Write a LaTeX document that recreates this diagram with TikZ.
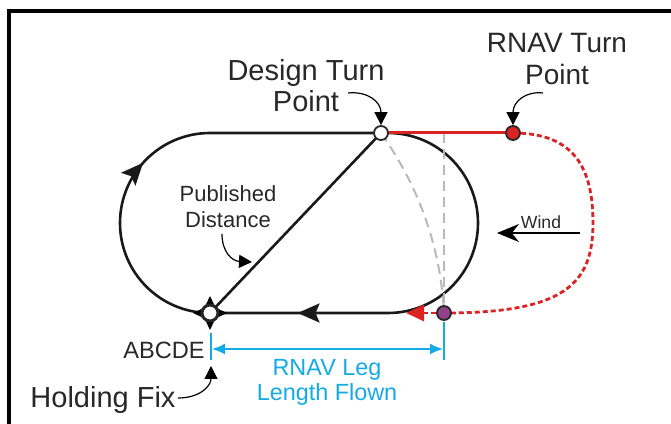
\documentclass[tikz,border=0pt]{standalone}
\usepackage{fontspec}
\setmainfont{Liberation Sans}
\usetikzlibrary{arrows.meta, shapes.geometric, decorations.markings}

\definecolor{legblue}{RGB}{20,170,230}
\definecolor{rnavred}{RGB}{220,35,35}
\definecolor{fixpurple}{RGB}{145,65,135}
\definecolor{labelgray}{RGB}{40,40,40}

\begin{document}
\begin{tikzpicture}[
    x=0.5pt, y=0.5pt,
    bigtext/.style={align=center, text=labelgray, font=\fontsize{14.5}{15.5}\selectfont},
    midtext/.style={align=center, text=labelgray, font=\fontsize{11}{13}\selectfont},
    track/.style={line width=1.3pt, black!90},
    callout/.style={line width=0.6pt, -{Triangle[length=6.5pt, width=6.5pt]}},
    waypt/.style={circle, draw=black!85, line width=0.9pt, inner sep=0pt, minimum size=7pt},
    guide/.style={gray!55, line width=1pt, dash pattern=on 5pt off 3pt},
    redpath/.style={rnavred, line width=1.4pt, dash pattern=on 2.5pt off 1.5pt},
    dim/.style={legblue, line width=0.8pt}
]
\useasboundingbox (0,0) rectangle (671,424);
\draw[line width=1.6pt] (9,0) -- (9,413) -- (671,413);

% key points of the holding pattern
\coordinate (fix) at (210,111);
\coordinate (dtp) at (381,291);
\coordinate (rtp) at (513,291);
\coordinate (legend) at (444,111);
\coordinate (abeam) at (444,291);
\coordinate (redtip) at (406,111);

% racetrack
\draw[track, postaction={decorate}, decoration={markings,
    mark=at position 0.225 with {\arrow{Stealth[length=11pt, width=9.5pt, inset=2pt]}},
    mark=at position 0.905 with {\arrow{Stealth[length=11pt, width=9.5pt, inset=2pt]}}}]
  (fix) arc[start angle=270, end angle=90, radius=90] -- (388,291)
  arc[start angle=90, end angle=-90, radius=90] -- cycle;
\draw[track] (fix) -- (dtp);

% gray guide lines
\draw[guide] (dtp) .. controls (410,250) and (440,190) .. (legend);
\draw[guide] (abeam) -- (legend);

% RNAV leg
\draw[rnavred, line width=1.5pt] (dtp) -- (rtp);
\draw[redpath] (rtp) .. controls (575,291) and (593,255) .. (593,201)
  .. controls (593,140) and (565,111) .. (legend);
\draw[redpath, -{Triangle[length=9pt, width=8pt]}] (legend) -- (redtip);

% points
\node[waypt, fill=white] (dtpnode) at (dtp) {};
\node[waypt, fill=rnavred] (rtpnode) at (rtp) {};
\node[waypt, fill=fixpurple] (endnode) at (legend) {};
\node[star, star points=4, star point ratio=2.2, fill=black, inner sep=0pt, minimum size=17pt] (fixstar) at (fix) {};
\node[waypt, fill=white, line width=1.5pt, minimum size=8pt] (fixnode) at (fix) {};

% labels
\node[bigtext] (dtplabel) at (306,338) {Design Turn\\Point};
\node[bigtext, font=\fontsize{14}{16}\selectfont] (rtplabel) at (557,365) {RNAV Turn\\Point};
\node[midtext] (publabel) at (228,217) {Published\\Distance};
\node[text=labelgray, font=\fontsize{8.8}{10}\selectfont] (windlabel) at (541,202) {Wind};
\node[text=labelgray, font=\fontsize{11.8}{13}\selectfont, anchor=east, inner sep=1pt] (abcde) at (207,74) {ABCDE};
\node[bigtext] (fixlabel) at (103,24) {Holding Fix};
\node[midtext, text=legblue, font=\fontsize{11.7}{12.5}\selectfont] (leglabel) at (327,42) {RNAV Leg\\Length Flown};

% callouts
\coordinate (dtpcall) at (348,331);
\coordinate (rtpcall) at (543,331);
\coordinate (fixcall) at (178,26);
\coordinate (fixtip) at (211,58);
\coordinate (pubcall) at (222,190);
\coordinate (pubtip) at (252,162);
\draw[callout] (dtpcall) .. controls (368,333) and (381,322) .. (dtpnode.north);
\draw[callout] (rtpcall) .. controls (525,333) and (513,322) .. (rtpnode.north);
\draw[callout] (fixcall) .. controls (200,26) and (211,38) .. (fixtip);
\draw[callout] (pubcall) .. controls (222,172) and (232,163) .. (pubtip);

% wind
\coordinate (windtail) at (580,191);
\coordinate (windtip) at (497,191);
\draw[line width=0.8pt, -{Stealth[length=11pt, width=9pt]}] (windtail) -- (windtip);

% leg length dimension
\coordinate (dimL) at (211,75);
\coordinate (dimR) at (444,75);
\draw[dim] (211,91) -- (211,64);
\draw[dim] (444,102) -- (444,64);
\draw[dim, {Latex[length=6.5pt, width=5.5pt]}-{Latex[length=6.5pt, width=5.5pt]}] ([xshift=0.5pt]dimL) -- ([xshift=-0.5pt]dimR);
\end{tikzpicture}
\end{document}
